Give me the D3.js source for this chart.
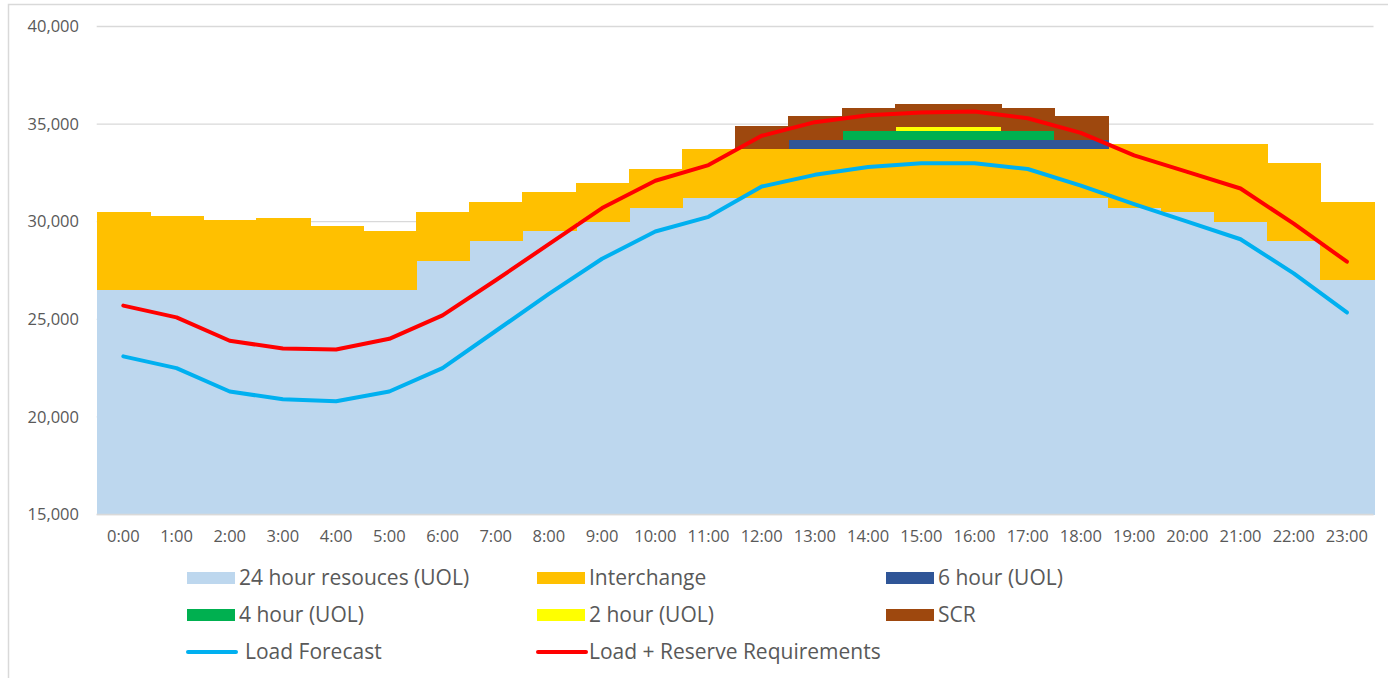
<!DOCTYPE html>
<html>
<head>
<meta charset="utf-8">
<script src="https://cdn.jsdelivr.net/npm/d3@7"></script>
<style>
  body { margin: 0; background: #fff; }
  text { font-family: "Open Sans", "Noto Sans", sans-serif; fill: #595959; }
</style>
</head>
<body>
<script>
var hours = ["0:00","1:00","2:00","3:00","4:00","5:00","6:00","7:00","8:00","9:00","10:00","11:00",
             "12:00","13:00","14:00","15:00","16:00","17:00","18:00","19:00","20:00","21:00","22:00","23:00"];

var res24 = [26500,26500,26500,26500,26500,26500,28000,29000,29500,30000,30700,31200,
             31200,31200,31200,31200,31200,31200,31200,30700,30500,30000,29000,27000];
var interchange = [4000,3800,3600,3700,3300,3000,2500,2000,2000,2000,2000,2500,
                   2500,2500,2500,2500,2500,2500,2500,3300,3500,4000,4000,4000];
var hr6 = [0,0,0,0,0,0,0,0,0,0,0,0, 0,500,500,500,500,500,500,0,0,0,0,0];
var hr4 = [0,0,0,0,0,0,0,0,0,0,0,0, 0,0,450,450,450,450,0,0,0,0,0,0];
var hr2 = [0,0,0,0,0,0,0,0,0,0,0,0, 0,0,0,200,200,0,0,0,0,0,0,0];
var scr = [0,0,0,0,0,0,0,0,0,0,0,0, 1200,1200,1200,1200,1200,1200,1200,0,0,0,0,0];

var loadForecast = [23100,22500,21300,20900,20800,21300,22500,24400,26300,28100,29500,30250,
                    31800,32400,32800,33000,33000,32700,31850,30900,30000,29100,27350,25350];
var loadReserve = [25700,25100,23900,23500,23450,24000,25200,27000,28850,30700,32100,32900,
                   34400,35100,35450,35600,35650,35300,34550,33400,32550,31700,29900,27950];

var yTicks = [15000,20000,25000,30000,35000,40000];

var series = [
  {name: "24 hour resouces (UOL)", vals: res24, color: "#BDD7EE"},
  {name: "Interchange", vals: interchange, color: "#FFC000"},
  {name: "6 hour (UOL)", vals: hr6, color: "#2F5597"},
  {name: "4 hour (UOL)", vals: hr4, color: "#00B050"},
  {name: "2 hour (UOL)", vals: hr2, color: "#FFFF00"},
  {name: "SCR", vals: scr, color: "#9E480E"}
];

var svg = d3.select("body").append("svg").attr("width", 1388).attr("height", 678);

// chart frame (only left/top edges visible)
svg.append("rect")
  .attr("x", 8.5).attr("y", 4.5).attr("width", 1420).attr("height", 720)
  .attr("fill", "none").attr("stroke", "#D9D9D9").attr("stroke-width", 1.5);

var x = d3.scaleBand().domain(hours).range([96.7, 1373.5]).padding(0);
var y = d3.scaleLinear().domain([15000, 40000]).range([514.5, 26.5]);

// gridlines
svg.selectAll("line.grid")
  .data(yTicks)
  .enter().append("line")
    .attr("class", "grid")
    .attr("x1", 96.7).attr("x2", 1373.5)
    .attr("y1", function(d){ return y(d); })
    .attr("y2", function(d){ return y(d); })
    .attr("stroke", "#D9D9D9").attr("stroke-width", 1.3);

// stacked bars (bottom clipped at axis min)
var stackData = hours.map(function(h, i){
  var row = {hour: h};
  series.forEach(function(s){ row[s.name] = s.vals[i]; });
  return row;
});
var stack = d3.stack().keys(series.map(function(s){ return s.name; }));
var layers = stack(stackData);

svg.selectAll("g.layer")
  .data(layers)
  .enter().append("g")
    .attr("class", "layer")
    .attr("fill", function(d, i){ return series[i].color; })
    .attr("shape-rendering", "crispEdges")
  .selectAll("rect")
  .data(function(d){ return d.filter(function(p){ return p[1] > p[0]; }); })
  .enter().append("rect")
    .attr("x", function(d){ return x(d.data.hour); })
    .attr("width", x.bandwidth() + 1)
    .attr("y", function(d){ return y(d[1]); })
    .attr("height", function(d){ return y(Math.max(d[0], 15000)) - y(d[1]); });

// bottom axis line
svg.append("line")
  .attr("x1", 96.7).attr("x2", 1373.5)
  .attr("y1", y(15000)).attr("y2", y(15000))
  .attr("stroke", "#D9D9D9").attr("stroke-width", 1.3);

// lines
var line = d3.line()
  .x(function(d, i){ return x(hours[i]) + x.bandwidth() / 2; })
  .y(function(d){ return y(d); });

svg.append("path").datum(loadForecast)
  .attr("d", line).attr("fill", "none")
  .attr("stroke", "#00B0F0").attr("stroke-width", 4)
  .attr("stroke-linecap", "round").attr("stroke-linejoin", "round");

svg.append("path").datum(loadReserve)
  .attr("d", line).attr("fill", "none")
  .attr("stroke", "#FF0000").attr("stroke-width", 4)
  .attr("stroke-linecap", "round").attr("stroke-linejoin", "round");

// y labels
svg.selectAll("text.ylab")
  .data(yTicks)
  .enter().append("text")
    .attr("class", "ylab")
    .attr("x", 79)
    .attr("y", function(d){ return y(d); })
    .attr("dy", "0.35em")
    .attr("text-anchor", "end")
    .attr("font-size", 16.5)
    .text(function(d){ return d3.format(",")(d); });

// x labels
svg.selectAll("text.xlab")
  .data(hours)
  .enter().append("text")
    .attr("class", "xlab")
    .attr("x", function(d){ return x(d) + x.bandwidth() / 2; })
    .attr("y", 536)
    .attr("dy", "0.35em")
    .attr("text-anchor", "middle")
    .attr("font-size", 16.5)
    .text(function(d){ return d; });

// legend
var legendItems = [
  {name: series[0].name, color: series[0].color, type: "box", col: 0, row: 0},
  {name: series[1].name, color: series[1].color, type: "box", col: 1, row: 0},
  {name: series[2].name, color: series[2].color, type: "box", col: 2, row: 0},
  {name: series[3].name, color: series[3].color, type: "box", col: 0, row: 1},
  {name: series[4].name, color: series[4].color, type: "box", col: 1, row: 1},
  {name: series[5].name, color: series[5].color, type: "box", col: 2, row: 1},
  {name: "Load Forecast", color: "#00B0F0", type: "line", col: 0, row: 2},
  {name: "Load + Reserve Requirements", color: "#FF0000", type: "line", col: 1, row: 2}
];
var colX = [187, 537, 886];
var rowY = [578, 615, 652];

var lg = svg.selectAll("g.legend")
  .data(legendItems)
  .enter().append("g")
    .attr("class", "legend")
    .attr("transform", function(d){ return "translate(" + colX[d.col] + "," + rowY[d.row] + ")"; });

lg.filter(function(d){ return d.type == "box"; })
  .append("rect")
    .attr("x", 0).attr("y", -6).attr("width", 48).attr("height", 12)
    .attr("fill", function(d){ return d.color; });

lg.filter(function(d){ return d.type == "line"; })
  .append("line")
    .attr("x1", 1).attr("x2", 49).attr("y1", 0).attr("y2", 0)
    .attr("stroke", function(d){ return d.color; })
    .attr("stroke-width", 4).attr("stroke-linecap", "round");

lg.append("text")
  .attr("x", function(d){ return d.type == "line" && d.col == 0 ? 58 : 52; })
  .attr("y", 0)
  .attr("dy", "0.35em")
  .attr("font-size", 21)
  .text(function(d){ return d.name; });
</script>
</body>
</html>
